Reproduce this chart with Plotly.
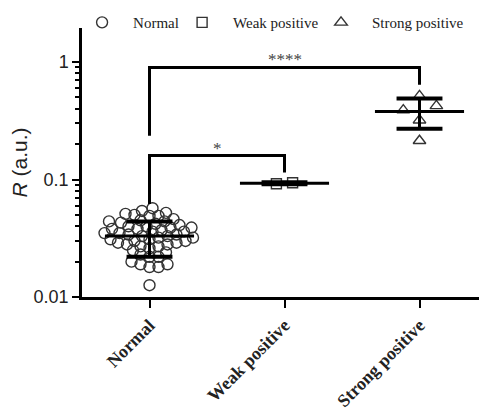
import numpy as np
import plotly.graph_objects as go

categories = ["Normal", "Weak positive", "Strong positive"]

normal_vals = [0.057, 0.054, 0.052, 0.051, 0.050, 0.049, 0.049,
               0.046, 0.045, 0.044, 0.044, 0.043, 0.042,
               0.041, 0.040, 0.040, 0.039, 0.039, 0.038, 0.038,
               0.037, 0.036, 0.036, 0.035, 0.035, 0.034, 0.034, 0.033,
               0.033, 0.032, 0.032, 0.031, 0.031, 0.030, 0.030,
               0.029, 0.029, 0.028, 0.028, 0.027, 0.027,
               0.026, 0.025, 0.024,
               0.023, 0.022, 0.022,
               0.020, 0.019, 0.019, 0.018, 0.018,
               0.0126]
weak_vals = [0.092, 0.094]
strong_vals = [0.515, 0.39, 0.424, 0.32, 0.214]

means = [0.033, 0.093, 0.38]
sd_low = [0.022, 0.091, 0.27]
sd_high = [0.044, 0.095, 0.49]

# significance brackets: (from idx, to idx, top value, left foot, right foot, label)
brackets = [
    (0, 2, 0.90, 0.236, 0.64, "****"),
    (0, 1, 0.16, 0.062, 0.115, "*"),
]

PX_PER_UNIT = 135.0
PX_PER_DECADE = 118.0


def beeswarm(vals, spacing=8.0):
    order = np.argsort(vals)
    placed = []
    xs = np.zeros(len(vals))
    for i in order:
        y = np.log10(vals[i]) * PX_PER_DECADE
        cands = [0.0]
        for s in range(1, 60):
            cands += [s * 1.5, -s * 1.5]
        for c in cands:
            ok = True
            for (px, py) in placed:
                if (px - c) ** 2 + (py - y) ** 2 < spacing ** 2:
                    ok = False
                    break
            if ok:
                xs[i] = c
                placed.append((c, y))
                break
    return xs / PX_PER_UNIT


normal_x = 0 + beeswarm(normal_vals)
weak_x = [1 - 0.06, 1 + 0.06]
strong_x = [2, 2 - 0.12, 2 + 0.125, 2, 2]

fig = go.Figure()

fig.add_trace(go.Scatter(x=normal_x, y=normal_vals, mode="markers", name="Normal", legend="legend",
                         marker=dict(symbol="circle-open", size=11, color="#333", line=dict(width=1.4))))
fig.add_trace(go.Scatter(x=weak_x, y=weak_vals, mode="markers", name="Weak positive", legend="legend2",
                         marker=dict(symbol="square-open", size=10, color="#333", line=dict(width=1.4))))
fig.add_trace(go.Scatter(x=strong_x, y=strong_vals, mode="markers", name="Strong positive", legend="legend3",
                         marker=dict(symbol="triangle-up-open", size=11, color="#333", line=dict(width=1.4))))

# mean lines and SD bars
for i in range(3):
    fig.add_trace(go.Scatter(x=[i - 0.33, i + 0.33], y=[means[i], means[i]], mode="lines",
                             line=dict(color="black", width=3), showlegend=False, hoverinfo="skip"))
    fig.add_trace(go.Scatter(x=[i, i], y=[sd_low[i], sd_high[i]], mode="lines",
                             line=dict(color="black", width=3), showlegend=False, hoverinfo="skip"))
    for v in (sd_low[i], sd_high[i]):
        fig.add_trace(go.Scatter(x=[i - 0.17, i + 0.17], y=[v, v], mode="lines",
                                 line=dict(color="black", width=4), showlegend=False, hoverinfo="skip"))

for (a, b, top, lf, rf, lab) in brackets:
    fig.add_trace(go.Scatter(x=[a, a, b, b], y=[lf, top, top, rf], mode="lines",
                             line=dict(color="black", width=3), showlegend=False, hoverinfo="skip"))
    fig.add_annotation(x=(a + b) / 2, y=np.log10(top), text=lab, showarrow=False,
                       yanchor="bottom", yshift=-4,
                       font=dict(family="Liberation Serif", size=17, color="#444"))

leg_common = dict(orientation="h", xanchor="left", y=1.02, yanchor="middle",
                  font=dict(family="Liberation Serif", size=15, color="#222"),
                  itemwidth=52, bgcolor="rgba(0,0,0,0)")

fig.update_layout(
    width=479, height=404,
    margin=dict(l=74, r=0, t=20, b=115, autoexpand=False),
    plot_bgcolor="white", paper_bgcolor="white",
    showlegend=True,
    legend=dict(x=-0.027, **leg_common),
    legend2=dict(x=0.220, **leg_common),
    legend3=dict(x=0.563, **leg_common),
    xaxis=dict(range=[-0.5, 2.5], tickvals=[0, 1, 2], ticktext=categories,
               tickangle=-45, showgrid=False, zeroline=False, automargin=False,
               showline=True, linecolor="black", linewidth=2.5,
               ticks="outside", ticklen=8, tickwidth=2, tickcolor="black",
               tickfont=dict(family="Liberation Serif", size=18, color="#222", weight="bold")),
    yaxis=dict(type="log", range=[-2, 0.29], dtick=1, showgrid=False, zeroline=False,
               automargin=False,
               showline=True, linecolor="black", linewidth=2.5,
               ticks="outside", ticklen=7, tickwidth=2, tickcolor="black",
               minor=dict(ticks="outside", ticklen=4, tickwidth=2, tickcolor="black", showgrid=False),
               tickfont=dict(family="Liberation Sans", size=18, color="#222"),
               title=dict(text="<i>R</i> (a.u.)", font=dict(family="Liberation Sans", size=21, color="#222"),
                          standoff=8)),
)

fig.write_html("out.html")
